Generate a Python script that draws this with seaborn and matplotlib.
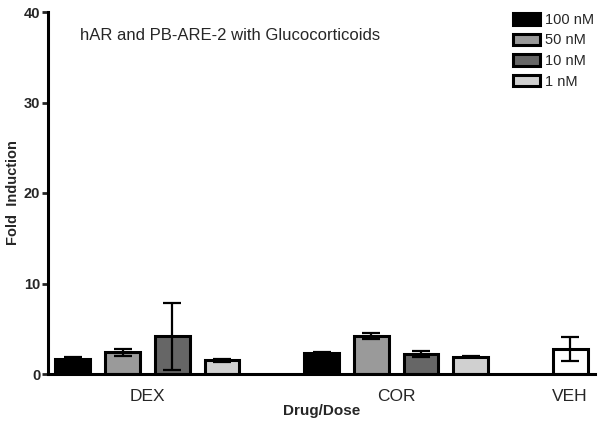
import matplotlib
matplotlib.use("Agg")
import matplotlib.pyplot as plt
import pandas as pd
import seaborn as sns

# values
drugs = ["DEX", "DEX", "DEX", "DEX", "COR", "COR", "COR", "COR", "VEH"]
doses = ["100 nM", "50 nM", "10 nM", "1 nM", "100 nM", "50 nM", "10 nM", "1 nM", "VEH"]
slots = [0, 1, 2, 3, 5, 6, 7, 8, 10]
fold = [1.7, 2.4, 4.15, 1.5, 2.35, 4.2, 2.2, 1.93, 2.75]
sem = [0.2, 0.4, 3.75, 0.15, 0.1, 0.38, 0.37, 0.1, 1.3]

group_labels = ["DEX", "COR", "VEH"]
group_pos = [1.5, 6.5, 10]
dose_order = ["100 nM", "50 nM", "10 nM", "1 nM", "VEH"]
dose_colors = ["#000000", "#9a9a9a", "#666666", "#d0d0d0", "#ffffff"]


def main() -> int:
    df = pd.DataFrame({"drug": drugs, "dose": doses, "slot": slots, "fold": fold, "sem": sem})

    sns.set_theme(style="ticks")
    plt.rcParams["font.family"] = ["Liberation Sans", "DejaVu Sans"]

    fig = plt.figure(figsize=(6.02, 4.25), dpi=100)
    ax = fig.add_axes([48 / 602, 1 - 374 / 425, 547 / 602, 362 / 425])

    sns.barplot(
        data=df, x="slot", y="fold", hue="dose", hue_order=dose_order,
        palette=dict(zip(dose_order, dose_colors)), native_scale=True,
        dodge=False, width=0.7, edgecolor="black", linewidth=2.2,
        errorbar=None, saturation=1, ax=ax,
    )
    ax.errorbar(df["slot"], df["fold"], yerr=df["sem"], fmt="none",
                ecolor="black", elinewidth=1.6, capsize=6.5, capthick=1.6, zorder=5)

    ax.set_xlim(-0.5, 10.5)
    ax.set_ylim(0, 40)
    ax.set_yticks([0, 10, 20, 30, 40])
    ax.set_xticks(group_pos)
    ax.set_xticklabels(group_labels, fontsize=12.5)
    ax.tick_params(axis="x", length=0, pad=11)
    ax.tick_params(axis="y", length=4.5, width=2, labelsize=10.5, pad=1)
    for lbl in ax.get_yticklabels():
        lbl.set_fontweight("bold")

    sns.despine(ax=ax)
    for side in ["left", "bottom"]:
        ax.spines[side].set_linewidth(2.2)
        ax.spines[side].set_color("black")

    ax.set_xlabel("Drug/Dose", fontsize=11, fontweight="bold", labelpad=0)
    ax.set_ylabel("Fold  Induction", fontsize=10.5, fontweight="bold", labelpad=3)

    ax.text(0.0585, 0.936, "hAR and PB-ARE-2 with Glucocorticoids",
            transform=ax.transAxes, fontsize=12, va="center", ha="left")

    handles, labels = ax.get_legend_handles_labels()
    ax.legend(handles[:4], labels[:4], loc="upper right",
              bbox_to_anchor=(600 / 602, 1 - 7 / 425), bbox_transform=fig.transFigure,
              frameon=False, fontsize=10.5, handlelength=1.85, handleheight=0.85,
              handletextpad=0.35, labelspacing=0.45, borderaxespad=0)

    fig.savefig("out.png", dpi=100)
    plt.close(fig)
    return 0


if __name__ == "__main__":
    raise SystemExit(main())
